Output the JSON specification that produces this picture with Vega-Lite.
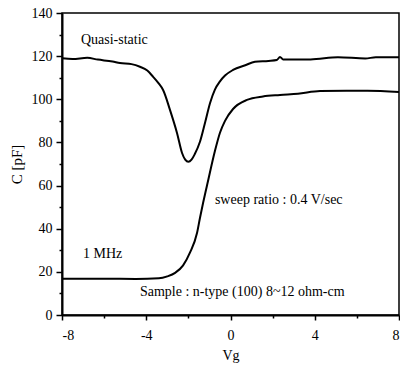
{
  "$schema": "https://vega.github.io/schema/vega-lite/v6.json",
  "autosize": {"type": "none"},
  "width": 337,
  "height": 302,
  "padding": {"left": 62, "top": 13, "right": 1, "bottom": 56},
  "background": "white",
  "config": {
    "view": {"stroke": "black", "strokeWidth": 1.5},
    "font": "Liberation Serif",
    "axis": {
      "domainColor": "black", "domainWidth": 2, "tickColor": "black", "tickWidth": 1.5,
      "labelColor": "black", "labelFont": "Liberation Serif", "labelFontSize": 14,
      "titleFont": "Liberation Serif", "titleFontSize": 14, "titleFontWeight": "normal", "titleColor": "black",
      "grid": false
    }
  },
  "datasets": {
    "curves": [
      {"series": "Quasi-static", "V": -8.0, "C": 119.0},
      {"series": "Quasi-static", "V": -7.5, "C": 118.7},
      {"series": "Quasi-static", "V": -6.8, "C": 119.2},
      {"series": "Quasi-static", "V": -6.3, "C": 118.4},
      {"series": "Quasi-static", "V": -5.6, "C": 117.5},
      {"series": "Quasi-static", "V": -5.25, "C": 116.8},
      {"series": "Quasi-static", "V": -4.7, "C": 116.3},
      {"series": "Quasi-static", "V": -4.3, "C": 115.1},
      {"series": "Quasi-static", "V": -3.95, "C": 113.3},
      {"series": "Quasi-static", "V": -3.68, "C": 110.5},
      {"series": "Quasi-static", "V": -3.42, "C": 107.5},
      {"series": "Quasi-static", "V": -3.2, "C": 104.3},
      {"series": "Quasi-static", "V": -2.87, "C": 95.0},
      {"series": "Quasi-static", "V": -2.54, "C": 84.4},
      {"series": "Quasi-static", "V": -2.3, "C": 75.1},
      {"series": "Quasi-static", "V": -2.15, "C": 72.0},
      {"series": "Quasi-static", "V": -2.0, "C": 71.0},
      {"series": "Quasi-static", "V": -1.85, "C": 72.0},
      {"series": "Quasi-static", "V": -1.7, "C": 74.5},
      {"series": "Quasi-static", "V": -1.45, "C": 80.3},
      {"series": "Quasi-static", "V": -1.2, "C": 89.5},
      {"series": "Quasi-static", "V": -0.97, "C": 98.3},
      {"series": "Quasi-static", "V": -0.74, "C": 104.5},
      {"series": "Quasi-static", "V": -0.5, "C": 108.3},
      {"series": "Quasi-static", "V": -0.26, "C": 111.0},
      {"series": "Quasi-static", "V": 0.12, "C": 113.6},
      {"series": "Quasi-static", "V": 0.7, "C": 115.8},
      {"series": "Quasi-static", "V": 1.16, "C": 117.4},
      {"series": "Quasi-static", "V": 1.8, "C": 117.8},
      {"series": "Quasi-static", "V": 2.2, "C": 118.2},
      {"series": "Quasi-static", "V": 2.35, "C": 119.6},
      {"series": "Quasi-static", "V": 2.5, "C": 118.5},
      {"series": "Quasi-static", "V": 3.8, "C": 118.5},
      {"series": "Quasi-static", "V": 5.1, "C": 119.5},
      {"series": "Quasi-static", "V": 6.4, "C": 118.9},
      {"series": "Quasi-static", "V": 6.9, "C": 119.5},
      {"series": "Quasi-static", "V": 8.0, "C": 119.5},
      {"series": "1 MHz", "V": -8.0, "C": 16.8},
      {"series": "1 MHz", "V": -6.0, "C": 16.8},
      {"series": "1 MHz", "V": -4.5, "C": 16.7},
      {"series": "1 MHz", "V": -3.4, "C": 17.0},
      {"series": "1 MHz", "V": -3.0, "C": 17.9},
      {"series": "1 MHz", "V": -2.63, "C": 19.5},
      {"series": "1 MHz", "V": -2.25, "C": 23.0},
      {"series": "1 MHz", "V": -1.92, "C": 29.0},
      {"series": "1 MHz", "V": -1.59, "C": 38.0},
      {"series": "1 MHz", "V": -1.45, "C": 45.0},
      {"series": "1 MHz", "V": -1.3, "C": 52.0},
      {"series": "1 MHz", "V": -1.07, "C": 62.0},
      {"series": "1 MHz", "V": -0.74, "C": 76.0},
      {"series": "1 MHz", "V": -0.5, "C": 84.5},
      {"series": "1 MHz", "V": -0.26, "C": 90.0},
      {"series": "1 MHz", "V": 0.12, "C": 95.5},
      {"series": "1 MHz", "V": 0.78, "C": 99.7},
      {"series": "1 MHz", "V": 1.54, "C": 101.3},
      {"series": "1 MHz", "V": 2.35, "C": 102.0},
      {"series": "1 MHz", "V": 3.2, "C": 102.6},
      {"series": "1 MHz", "V": 4.25, "C": 103.8},
      {"series": "1 MHz", "V": 5.5, "C": 104.0},
      {"series": "1 MHz", "V": 6.5, "C": 104.0},
      {"series": "1 MHz", "V": 8.0, "C": 103.4}
    ],
    "notes": [
      {"label": "Quasi-static", "V": -7.1, "C": 127.5},
      {"label": "1 MHz", "V": -7.0, "C": 28.3},
      {"label": "sweep ratio : 0.4 V/sec", "V": -0.74, "C": 53.3},
      {"label": "Sample : n-type (100) 8~12 ohm-cm", "V": -4.3, "C": 10.7}
    ]
  },
  "layer": [
    {
      "data": {"name": "curves"},
      "mark": {"type": "line", "color": "black", "strokeWidth": 2, "interpolate": "monotone"},
      "encoding": {
        "x": {"field": "V", "type": "quantitative",
              "scale": {"domain": [-8, 8], "nice": false},
              "axis": {"values": [-8, -4, 0, 4, 8], "tickSize": 5, "labelPadding": 8, "title": "Vg", "titlePadding": 6,
                       "labelExpr": "datum.value < 0 ? '-' + abs(datum.value) : '' + datum.value"}},
        "y": {"field": "C", "type": "quantitative",
              "scale": {"domain": [0, 140], "nice": false},
              "axis": {"values": [0, 20, 40, 60, 80, 100, 120, 140], "tickSize": 6, "labelPadding": 4, "title": "C [pF]", "titlePadding": 7, "titleFontSize": 15}},
        "detail": {"field": "series", "type": "nominal"}
      }
    },
    {
      "data": {"name": "notes"},
      "mark": {"type": "text", "align": "left", "baseline": "middle", "fontSize": 14, "font": "Liberation Serif", "color": "black"},
      "encoding": {
        "x": {"field": "V", "type": "quantitative",
              "axis": {"values": [-6, -2, 2, 6], "labels": false, "tickSize": 3, "domain": false, "title": null, "orient": "bottom"}},
        "y": {"field": "C", "type": "quantitative",
              "axis": {"values": [10, 30, 50, 70, 90, 110, 130], "labels": false, "tickSize": 3, "domain": false, "title": null, "orient": "left"}},
        "text": {"field": "label", "type": "nominal"}
      }
    }
  ],
  "resolve": {"axis": {"x": "independent", "y": "independent"}}
}
